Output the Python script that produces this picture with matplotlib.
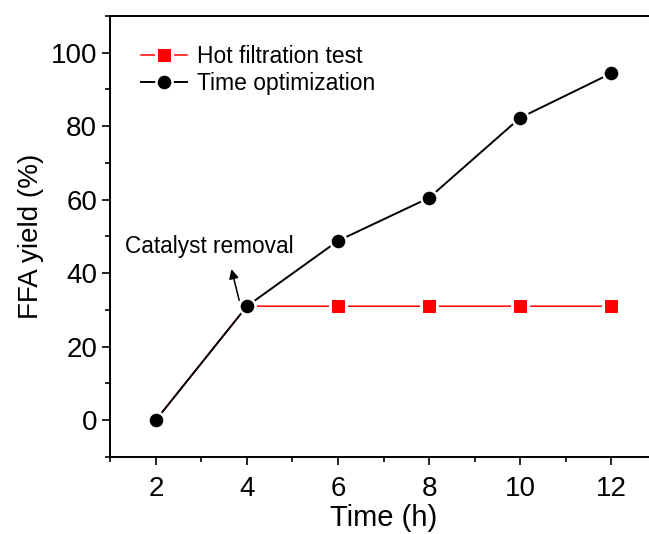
import matplotlib
matplotlib.use("Agg")
import matplotlib.pyplot as plt
from matplotlib.ticker import MultipleLocator

plt.rcParams["font.family"] = ["Liberation Sans", "DejaVu Sans"]

time_h = [2, 4, 6, 8, 10, 12]
time_opt_yield = [0, 31, 48.8, 60.5, 82.3, 94.4]
hot_filt_yield = [0, 31, 31, 31, 31, 31]

fig = plt.figure(figsize=(6.49, 5.34), dpi=100)
ax = fig.add_axes([0.170, 0.1446, 0.842, 0.8254])

ax.plot(time_h, hot_filt_yield, color="red", lw=1.1, marker="s", ms=11.5,
        mfc="red", mec="white", mew=2.2, label="Hot filtration test", zorder=2)
ax.plot(time_h, time_opt_yield, color="black", lw=1.4, marker="o", ms=11.6,
        mfc="black", mec="white", mew=1.8, label="Time optimization", zorder=3)

ax.annotate("", xy=(3.66, 41.1), xytext=(3.83, 32.6),
            arrowprops=dict(arrowstyle="-|>", color="black", lw=1.1,
                            mutation_scale=14, shrinkA=0, shrinkB=0))
ax.text(3.18, 47.2, "Catalyst removal", fontsize=16.3, ha="center", va="center")

ax.set_xlim(1, 13)
ax.set_ylim(-10, 110)
ax.xaxis.set_major_locator(MultipleLocator(2))
ax.xaxis.set_minor_locator(MultipleLocator(1))
ax.yaxis.set_minor_locator(MultipleLocator(10))
ax.set_yticks(range(0, 101, 20))
ax.tick_params(which="major", direction="out", length=6, width=1.2, labelsize=20)
ax.tick_params(axis="x", which="major", pad=8)
ax.tick_params(which="minor", direction="out", length=3.5, width=1.2)
for s in ax.spines.values():
    s.set_linewidth(1.4)
ax.spines["right"].set_visible(False)

ax.set_xlabel("Time (h)", fontsize=21, labelpad=1.5)
ax.set_ylabel("FFA yield (%)", fontsize=20, labelpad=5)

ax.legend(loc="upper left", bbox_to_anchor=(0.056, 0.935), frameon=False,
          fontsize=16.5, handlelength=2.0, handletextpad=0.45, labelspacing=0.2,
          borderpad=0, borderaxespad=0)

fig.savefig("out.png", dpi=100)
